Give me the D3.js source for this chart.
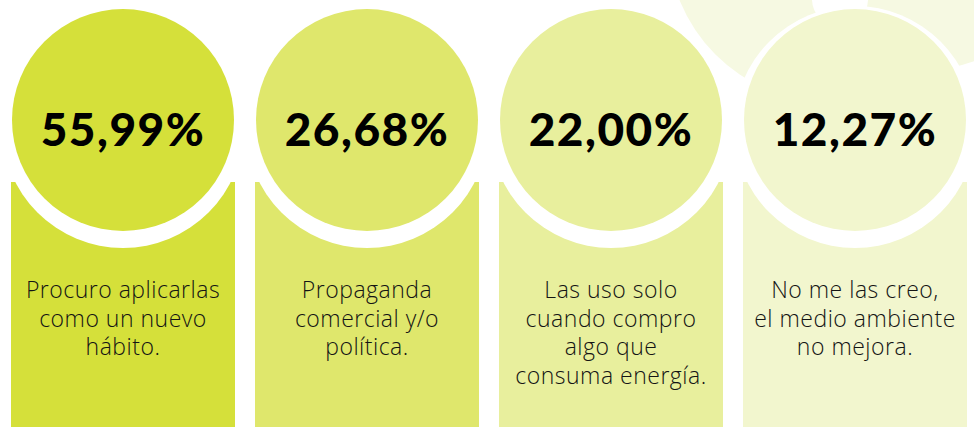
<!DOCTYPE html>
<html lang="es">
<head>
<meta charset="UTF-8">
<title>Opiniones</title>
<script src="https://d3js.org/d3.v7.min.js"></script>
<style>
    html,body{
        margin:0;
        padding:0;
        background:#fff;
        overflow:hidden;
    }
    svg{display:block;}
</style>
</head>
<body>
<div id="chart"></div>
<script>
    // datos
    const categories = ["aplicar", "propaganda", "compra", "no creo"];
    const values = [55.99, 26.68, 22.00, 12.27];
    const labels = [
        ["Procuro aplicarlas", "como un nuevo", "hábito."],
        ["Propaganda", "comercial y/o", "política."],
        ["Las uso solo", "cuando compro", "algo que", "consuma energía."],
        ["No me las creo,", "el medio ambiente", "no mejora."]
    ];
    const colors = ["#d5e03a", "#dfe76c", "#e8ef9d", "#f2f6ce"];

    const W = 974, H = 427;
    const svg = d3.select("#chart").append("svg")
        .attr("width", W)
        .attr("height", H);

    const x = d3.scaleBand()
        .domain(categories)
        .range([11, 967])
        .paddingInner(20 / 244)
        .paddingOuter(0);

    const es = d3.formatLocale({decimal: ",", thousands: ".", grouping: [3], currency: ["", "€"]});
    const fmt = es.format(".2f");

    // circulos decorativos del fondo
    const deco = svg.append("g");
    deco.append("circle").attr("cx", 830).attr("cy", -60).attr("r", 162).attr("fill", "#f6f9e2");
    deco.append("circle").attr("cx", 917).attr("cy", -100).attr("r", 171).attr("fill", "#f6f9e2");
    deco.append("circle").attr("cx", 840).attr("cy", -1).attr("r", 28).attr("fill", "#fff");

    const col = svg.selectAll("g.col")
        .data(categories)
        .join("g")
        .attr("class", "col");

    col.append("rect")
        .attr("x", d => x(d))
        .attr("y", 182)
        .attr("width", x.bandwidth())
        .attr("height", H - 182 + 10)
        .attr("fill", (d, i) => colors[i]);

    // aro blanco
    col.append("circle")
        .attr("cx", d => x(d) + x.bandwidth() / 2)
        .attr("cy", 127)
        .attr("r", 121)
        .attr("fill", "#fff");

    col.append("circle")
        .attr("cx", d => x(d) + x.bandwidth() / 2)
        .attr("cy", 120)
        .attr("r", 111)
        .attr("fill", (d, i) => colors[i]);

    col.append("text")
        .attr("x", d => x(d) + x.bandwidth() / 2)
        .attr("y", 146)
        .attr("text-anchor", "middle")
        .attr("font-family", "Lato, 'DejaVu Sans', sans-serif")
        .attr("font-weight", 900)
        .attr("font-size", 46)
        .attr("letter-spacing", 1.5)
        .attr("fill", "#000")
        .text((d, i) => fmt(values[i]) + "%");

    col.each(function(d, i) {
        const t = d3.select(this).append("text")
            .attr("text-anchor", "middle")
            .attr("font-family", "'Open Sans', Lato, sans-serif")
            .attr("font-weight", 300)
            .attr("font-size", 23)
            .attr("letter-spacing", 0.5)
            .attr("fill", "#141414");
        labels[i].forEach((line, j) => {
            t.append("tspan")
                .attr("x", x(d) + x.bandwidth() / 2)
                .attr("y", 298 + j * 28.6)
                .text(line);
        });
    });
</script>
</body>
</html>
